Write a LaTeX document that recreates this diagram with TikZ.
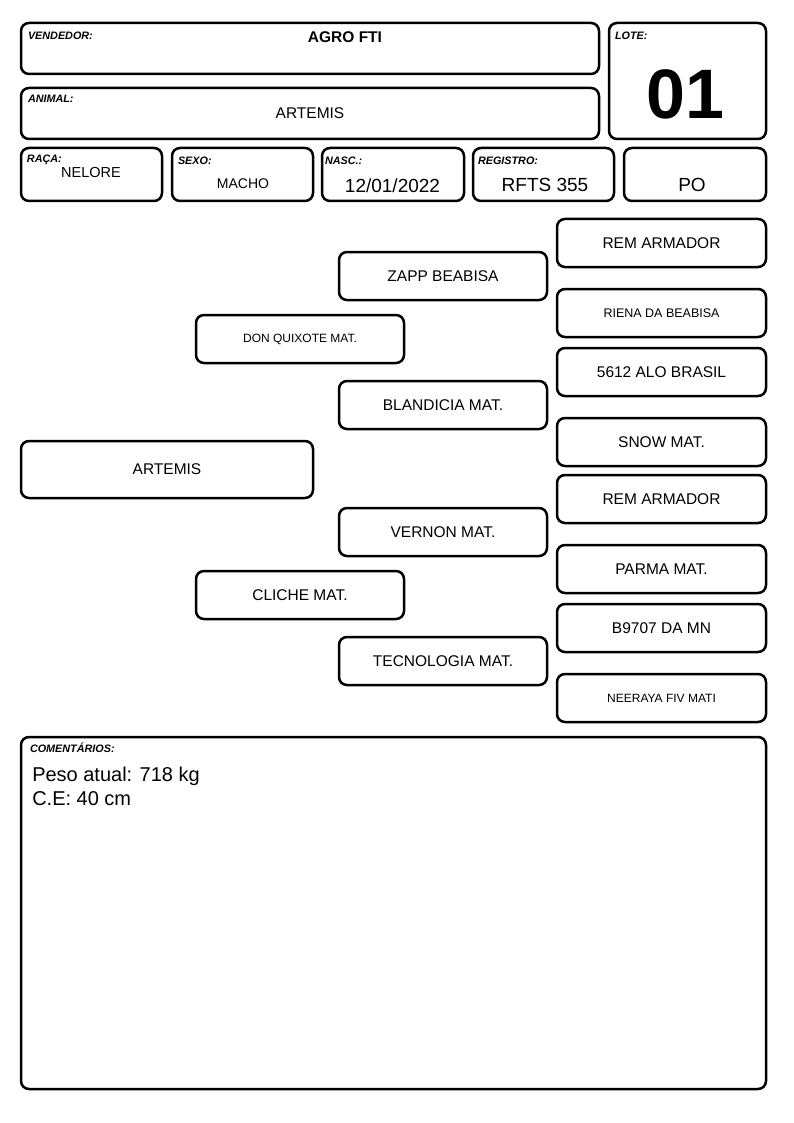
\documentclass[tikz,border=0pt]{standalone}
\usepackage{fontspec}
\setmainfont{Liberation Sans}
\newcommand{\fs}[1]{\fontsize{#1}{#1}\selectfont}

\begin{document}
\begin{tikzpicture}[x=1pt,y=-1pt,line width=2.5pt,draw=black]
    \tikzstyle{card}=[draw,rounded corners=8pt,inner sep=0pt]
    \tikzstyle{tag}=[anchor=base west,inner sep=0pt,font=\fs{10.8}\bfseries\itshape]
    \tikzstyle{value}=[anchor=base,inner sep=0pt,font=\fs{15.5}]
    \tikzstyle{big value}=[value,font=\fs{19}]
    \tikzstyle{note}=[anchor=base west,inner sep=0pt,font=\fs{20}]
    \tikzstyle{parent}=[card,minimum width=208pt,minimum height=48pt,font=\fs{15.5}]
    \tikzstyle{grandparent}=[card,minimum width=209pt,minimum height=48pt,font=\fs{15.5}]

    \useasboundingbox (0,0) rectangle (794,1123);

    % Draw the header cards
    \node[card,minimum width=578pt,minimum height=51pt] (vend) at (310,48.5) {};
    \node[card,minimum width=578pt,minimum height=51pt] (animal) at (310,113.5) {};
    \node[card,minimum width=157pt,minimum height=116pt] (lote) at (687.5,81) {};
    \node[card,minimum width=141pt,minimum height=53pt] (raca) at (91.5,174.5) {};
    \node[card,minimum width=141pt,minimum height=53pt] (sexo) at (242.5,174.5) {};
    \node[card,minimum width=142pt,minimum height=53pt] (nasc) at (393,174.5) {};
    \node[card,minimum width=141pt,minimum height=53pt] (reg) at (543.5,174.5) {};
    \node[card,minimum width=142pt,minimum height=53pt] (po) at (695,174.5) {};

    % Field tags
    \node[tag] (vend-tag) at ([shift={(7,18)}]vend.north west) {VENDEDOR:};
    \node[tag] (animal-tag) at ([shift={(7,16)}]animal.north west) {ANIMAL:};
    \node[tag] (lote-tag) at ([shift={(6,18)}]lote.north west) {LOTE:};
    \node[tag] (raca-tag) at ([shift={(6,16)}]raca.north west) {RAÇA:};
    \node[tag] (sexo-tag) at ([shift={(6,18)}]sexo.north west) {SEXO:};
    \node[tag] (nasc-tag) at ([shift={(3,18)}]nasc.north west) {NASC.:};
    \node[tag] (reg-tag) at ([shift={(5,18)}]reg.north west) {REGISTRO:};

    % Field values
    \node[value,font=\fs{15.5}\bfseries] (vend-val) at (345,43) {AGRO FTI};
    \node[value] (animal-val) at (310,119) {ARTEMIS};
    \node[value,font=\fs{70}\bfseries] (lote-val) at (685,119) {01};
    \node[value,font=\fs{14.5}] (raca-val) at (91,178) {NELORE};
    \node[value,font=\fs{14}] (sexo-val) at (243,189) {MACHO};
    \node[big value] (nasc-val) at (392.5,193) {12/01/2022};
    \node[big value] (reg-val) at (545,192) {RFTS 355};
    \node[big value] (po-val) at (692,192) {PO};

    % Draw the pedigree: animal, parents, grandparents, great-grandparents
    \node[card,minimum width=292pt,minimum height=57pt,font=\fs{15.5}] (A) at (167,469.5) {ARTEMIS};

    \node[parent,font=\fs{12}] (P-1) at (300,339) {DON QUIXOTE MAT.};
    \node[parent] (P-2) at (300,595) {CLICHE MAT.};

    \node[parent] (G-1) at (443,276) {ZAPP BEABISA};
    \node[parent] (G-2) at (443,405) {BLANDICIA MAT.};
    \node[parent] (G-3) at (443,532) {VERNON MAT.};
    \node[parent] (G-4) at (443,661) {TECNOLOGIA MAT.};

    \node[grandparent] (B-1) at (661.5,243) {REM ARMADOR};
    \node[grandparent,font=\fs{12.5}] (B-2) at (661.5,313) {RIENA DA BEABISA};
    \node[grandparent] (B-3) at (661.5,372) {5612 ALO BRASIL};
    \node[grandparent] (B-4) at (661.5,442) {SNOW MAT.};
    \node[grandparent] (B-5) at (661.5,499) {REM ARMADOR};
    \node[grandparent] (B-6) at (661.5,569) {PARMA MAT.};
    \node[grandparent] (B-7) at (661.5,628) {B9707 DA MN};
    \node[grandparent,font=\fs{12}] (B-8) at (661.5,698) {NEERAYA FIV MATI};

    % Comments
    \node[card,minimum width=745pt,minimum height=352pt] (com) at (393.5,913) {};
    \node[tag] (com-tag) at ([shift={(9,17)}]com.north west) {COMENTÁRIOS:};
    \node[note] (peso) at (31,781) {Peso atual: 718 kg};
    \node[note] (ce) at (31,805) {C.E: 40 cm};
\end{tikzpicture}
\end{document}
